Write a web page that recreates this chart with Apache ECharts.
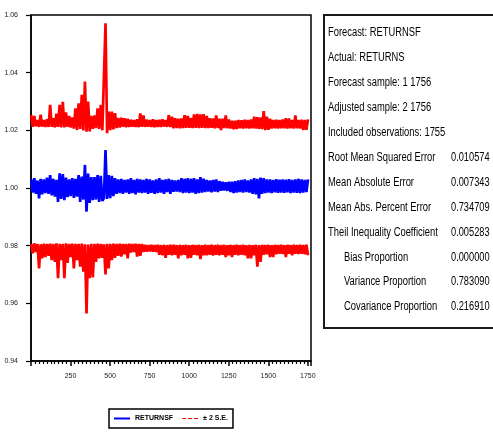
<!DOCTYPE html>
<html>
<head>
<meta charset="utf-8">
<script src="https://cdn.jsdelivr.net/npm/echarts@6/dist/echarts.min.js"></script>
<style>
  html, body { margin: 0; padding: 0; background: #fff; }
  #chart { width: 493px; height: 434px; }
</style>
</head>
<body>
<div id="chart"></div>
<script>
// Sampled every 10th observation, starting at observation 1
const obsStep = 10;

// RETURNSF: static forecast of gross returns
const forecast = [
  1.0030, 0.9984, 1.0034, 0.9980, 1.0026, 0.9964, 1.0032, 0.9978, 1.0030, 0.9982,
  1.0036, 0.9980, 1.0045, 0.9974, 1.0032, 0.9970, 1.0028, 0.9952, 1.0051, 0.9962,
  1.0048, 0.9958, 1.0036, 0.9968, 1.0030, 0.9972, 1.0034, 0.9966, 1.0032, 0.9970,
  1.0045, 0.9952, 1.0040, 0.9960, 1.0080, 0.9918, 1.0050, 0.9948, 1.0038, 0.9958,
  1.0038, 0.9960, 1.0045, 0.9952, 1.0042, 0.9955, 0.9965, 1.0132, 0.9962, 1.0045,
  0.9965, 1.0042, 0.9972, 1.0034, 0.9980, 1.0030, 0.9982, 1.0032, 0.9980, 1.0028,
  0.9984, 1.0030, 0.9980, 1.0034, 0.9982, 1.0028, 0.9978, 1.0032, 0.9984, 1.0030,
  0.9982, 1.0028, 0.9984, 1.0032, 0.9980, 1.0030, 0.9983, 1.0026, 0.9980, 1.0030,
  0.9982, 1.0034, 0.9984, 1.0028, 0.9980, 1.0030, 0.9986, 1.0032, 0.9980, 1.0028,
  0.9987, 1.0026, 0.9988, 1.0028, 0.9986, 1.0034, 0.9982, 1.0032, 0.9984, 1.0034,
  0.9982, 1.0032, 0.9984, 1.0034, 0.9980, 1.0030, 0.9982, 1.0038, 0.9984, 1.0032,
  0.9986, 1.0028, 0.9988, 1.0026, 0.9985, 1.0028, 0.9988, 1.0030, 0.9986, 1.0024,
  0.9990, 1.0022, 0.9991, 1.0020, 0.9990, 1.0022, 0.9986, 1.0022, 0.9982, 1.0024,
  0.9984, 1.0026, 0.9986, 1.0028, 0.9984, 1.0030, 0.9986, 1.0026, 0.9984, 1.0030,
  0.9980, 1.0034, 0.9978, 1.0032, 0.9964, 1.0036, 0.9980, 1.0034, 0.9982, 1.0030,
  0.9984, 1.0030, 0.9982, 1.0028, 0.9985, 1.0031, 0.9983, 1.0029, 0.9984, 1.0030,
  0.9983, 1.0029, 0.9985, 1.0031, 0.9982, 1.0028, 0.9984, 1.0030, 0.9983, 1.0032,
  0.9982, 1.0030, 0.9984, 1.0028, 0.9986, 1.0030
];

// Forecast + 2 S.E.
const upperBand = [
  1.0253, 1.0212, 1.0250, 1.0214, 1.0236, 1.0212, 1.0254, 1.0213, 1.0236, 1.0212,
  1.0238, 1.0212, 1.0288, 1.0212, 1.0242, 1.0210, 1.0258, 1.0212, 1.0288, 1.0210,
  1.0299, 1.0210, 1.0262, 1.0212, 1.0250, 1.0210, 1.0245, 1.0206, 1.0276, 1.0201,
  1.0294, 1.0205, 1.0323, 1.0200, 1.0369, 1.0195, 1.0300, 1.0196, 1.0250, 1.0205,
  1.0252, 1.0208, 1.0276, 1.0205, 1.0288, 1.0200, 1.0195, 1.0571, 1.0190, 1.0265,
  1.0201, 1.0265, 1.0203, 1.0260, 1.0208, 1.0243, 1.0210, 1.0244, 1.0212, 1.0242,
  1.0211, 1.0240, 1.0212, 1.0237, 1.0213, 1.0236, 1.0212, 1.0238, 1.0211, 1.0259,
  1.0212, 1.0252, 1.0212, 1.0237, 1.0213, 1.0236, 1.0212, 1.0238, 1.0211, 1.0236,
  1.0212, 1.0237, 1.0212, 1.0238, 1.0213, 1.0236, 1.0212, 1.0253, 1.0211, 1.0247,
  1.0207, 1.0242, 1.0208, 1.0240, 1.0207, 1.0241, 1.0208, 1.0253, 1.0209, 1.0250,
  1.0209, 1.0243, 1.0208, 1.0255, 1.0209, 1.0257, 1.0208, 1.0255, 1.0209, 1.0256,
  1.0208, 1.0250, 1.0208, 1.0242, 1.0209, 1.0241, 1.0207, 1.0252, 1.0208, 1.0240,
  1.0201, 1.0240, 1.0208, 1.0252, 1.0207, 1.0238, 1.0206, 1.0233, 1.0204, 1.0233,
  1.0205, 1.0236, 1.0207, 1.0235, 1.0206, 1.0237, 1.0207, 1.0236, 1.0206, 1.0238,
  1.0207, 1.0247, 1.0206, 1.0246, 1.0205, 1.0245, 1.0204, 1.0267, 1.0201, 1.0247,
  1.0202, 1.0240, 1.0206, 1.0236, 1.0207, 1.0237, 1.0206, 1.0236, 1.0207, 1.0238,
  1.0207, 1.0242, 1.0206, 1.0241, 1.0207, 1.0236, 1.0206, 1.0252, 1.0207, 1.0236,
  1.0206, 1.0237, 1.0201, 1.0236, 1.0202, 1.0238
];

// Forecast - 2 S.E.
const lowerBand = [
  0.9806, 0.9774, 0.9808, 0.9778, 0.9806, 0.9721, 0.9805, 0.9756, 0.9807, 0.9760,
  0.9806, 0.9765, 0.9807, 0.9750, 0.9806, 0.9744, 0.9808, 0.9687, 0.9806, 0.9750,
  0.9806, 0.9687, 0.9808, 0.9740, 0.9806, 0.9760, 0.9807, 0.9721, 0.9806, 0.9750,
  0.9806, 0.9727, 0.9807, 0.9710, 0.9805, 0.9565, 0.9804, 0.9687, 0.9806, 0.9690,
  0.9806, 0.9744, 0.9807, 0.9756, 0.9806, 0.9758, 0.9805, 0.9700, 0.9806, 0.9721,
  0.9806, 0.9750, 0.9807, 0.9758, 0.9806, 0.9765, 0.9807, 0.9762, 0.9806, 0.9770,
  0.9806, 0.9756, 0.9807, 0.9776, 0.9806, 0.9778, 0.9807, 0.9762, 0.9806, 0.9765,
  0.9806, 0.9778, 0.9803, 0.9779, 0.9802, 0.9780, 0.9803, 0.9779, 0.9802, 0.9778,
  0.9803, 0.9768, 0.9802, 0.9767, 0.9803, 0.9758, 0.9802, 0.9768, 0.9803, 0.9767,
  0.9803, 0.9768, 0.9802, 0.9756, 0.9803, 0.9767, 0.9802, 0.9768, 0.9803, 0.9756,
  0.9802, 0.9758, 0.9803, 0.9768, 0.9802, 0.9767, 0.9803, 0.9753, 0.9802, 0.9767,
  0.9803, 0.9767, 0.9802, 0.9768, 0.9803, 0.9766, 0.9802, 0.9768, 0.9803, 0.9767,
  0.9802, 0.9768, 0.9803, 0.9760, 0.9802, 0.9767, 0.9803, 0.9760, 0.9802, 0.9768,
  0.9803, 0.9767, 0.9802, 0.9768, 0.9803, 0.9767, 0.9802, 0.9756, 0.9803, 0.9756,
  0.9802, 0.9767, 0.9803, 0.9727, 0.9802, 0.9744, 0.9803, 0.9768, 0.9802, 0.9770,
  0.9803, 0.9760, 0.9802, 0.9760, 0.9803, 0.9770, 0.9802, 0.9772, 0.9803, 0.9771,
  0.9802, 0.9760, 0.9803, 0.9772, 0.9802, 0.9767, 0.9803, 0.9772, 0.9802, 0.9771,
  0.9803, 0.9772, 0.9802, 0.9770, 0.9803, 0.9767
];

// Axis settings
const yMin = 0.94, yMax = 1.06, yStep = 0.02;
const xMin = 0, xMax = 1770, xStep = 250;

// Forecast evaluation panel
const headerLines = [
  'Forecast: RETURNSF',
  'Actual: RETURNS',
  'Forecast sample: 1 1756',
  'Adjusted sample: 2 1756',
  'Included observations: 1755'
];
const statNames = [
  'Root Mean Squared Error',
  'Mean Absolute Error',
  'Mean Abs. Percent Error',
  'Theil Inequality Coefficient',
  'Bias Proportion',
  'Variance Proportion',
  'Covariance Proportion'
];
const statValues = ['0.010574', '0.007343', '0.734709', '0.005283', '0.000000', '0.783090', '0.216910'];
const statIndented = [false, false, false, false, true, true, true];

const toPairs = arr => arr.map((v, i) => [1 + i * obsStep, v]);

const RED = '#ff0000', BLUE = '#0000ff';
const panelFont = '12.5px "Liberation Sans", Arial, sans-serif';
const squeeze = 0.75;

const graphic = [{
  type: 'rect', silent: true,
  shape: { x: 324, y: 15, width: 200, height: 313 },
  style: { fill: 'none', stroke: '#1a1a1a', lineWidth: 2 }
}];
const lineY = k => 33 + k * 24.9;
headerLines.forEach((t, k) => {
  graphic.push({ type: 'text', silent: true, x: 328, y: lineY(k), scaleX: squeeze,
    style: { text: t, font: panelFont, fill: '#000', verticalAlign: 'middle' } });
});
statNames.forEach((t, j) => {
  const k = headerLines.length + j;
  graphic.push({ type: 'text', silent: true, x: statIndented[j] ? 344 : 328, y: lineY(k), scaleX: squeeze,
    style: { text: t, font: panelFont, fill: '#000', verticalAlign: 'middle' } });
  graphic.push({ type: 'text', silent: true, x: 451, y: lineY(k), scaleX: 0.74,
    style: { text: statValues[j], font: panelFont, fill: '#000', verticalAlign: 'middle' } });
});

const bandLine = color => ({ color: color, width: 2.7, join: 'bevel' });

const chart = echarts.init(document.getElementById('chart'), null, { renderer: 'canvas' });
chart.setOption({
  animation: false,
  backgroundColor: '#fff',
  grid: { left: 31, top: 15, width: 280, height: 346, show: true, borderColor: '#000', borderWidth: 1.5 },
  legend: {
    left: 109, top: 409,
    padding: [6, 5], itemGap: 9, itemWidth: 16, itemHeight: 2,
    borderColor: '#000', borderWidth: 1.5,
    textStyle: { fontSize: 7, fontWeight: 'bold', color: '#000', fontFamily: 'Liberation Sans, Arial' },
    data: [
      { name: 'RETURNSF', icon: 'rect', itemStyle: { color: BLUE } },
      { name: '± 2 S.E.', icon: 'path://M0 0h4v1H0z M6 0h4v1H6z M12 0h4v1h-4z', itemStyle: { color: RED } }
    ]
  },
  xAxis: {
    type: 'value', min: xMin, max: xMax, interval: xStep,
    axisLine: { show: true, lineStyle: { color: '#000', width: 1.5 } },
    axisTick: { show: true, length: 5, lineStyle: { color: '#000', width: 1.5 } },
    minorTick: { show: true, splitNumber: 10, length: 3, lineStyle: { color: '#000', width: 1.2 } },
    splitLine: { show: false },
    axisLabel: {
      fontSize: 7, color: '#222', margin: 12, fontFamily: 'Liberation Sans, Arial',
      formatter: v => (v > 0 && v % xStep === 0) ? String(v) : ''
    }
  },
  yAxis: {
    type: 'value', min: yMin, max: yMax, interval: yStep,
    axisLine: { show: true, lineStyle: { color: '#000', width: 1.5 } },
    axisTick: { show: true, length: 5, lineStyle: { color: '#000', width: 1.2 } },
    splitLine: { show: false },
    axisLabel: {
      fontSize: 7, color: '#222', margin: 13, fontFamily: 'Liberation Sans, Arial',
      formatter: v => v.toFixed(2)
    }
  },
  series: [
    { name: '± 2 S.E.', type: 'line', data: toPairs(upperBand), symbol: 'none',
      lineStyle: bandLine(RED), itemStyle: { color: RED } },
    { name: '± 2 S.E.', type: 'line', data: toPairs(lowerBand), symbol: 'none',
      lineStyle: bandLine(RED), itemStyle: { color: RED } },
    { name: 'RETURNSF', type: 'line', data: toPairs(forecast), symbol: 'none',
      lineStyle: bandLine(BLUE), itemStyle: { color: BLUE } }
  ],
  graphic: graphic
});
</script>
</body>
</html>
